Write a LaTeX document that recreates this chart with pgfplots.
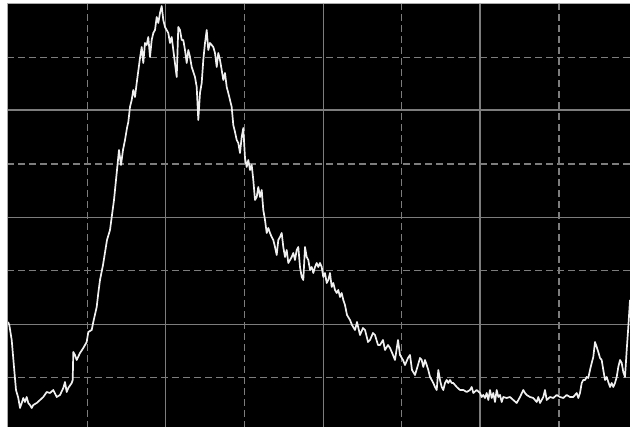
\documentclass[border=0pt]{standalone}
\usepackage{pgfplots}
\pgfplotsset{compat=1.18}
\definecolor{gridc}{RGB}{125,125,125}
\definecolor{framec}{RGB}{170,170,170}
\definecolor{curvec}{RGB}{240,240,240}
\begin{document}
\begin{tikzpicture}[x=1pt,y=1pt]
\useasboundingbox (0,0) rectangle (630,427);
\fill[white] (0,0) rectangle (630,427);
\begin{axis}[
  at={(7pt,0pt)}, anchor=south west,
  scale only axis, width=623pt, height=424pt,
  xmin=7, xmax=630, ymin=3, ymax=427, y dir=reverse,
  axis background/.style={fill=black},
  axis line style={draw=none},
  major tick length=0pt, minor tick length=0pt,
  xticklabels={}, yticklabels={},
  xtick={165.7,323.3,480}, minor xtick={87.3,244.3,401.7,559},
  ytick={110,217.3,324.3}, minor ytick={57.3,164,270.5,377.3},
  grid=both,
  major grid style={solid, gridc, line width=1.5pt},
  minor grid style={gridc, line width=1.5pt, dash pattern=on 7pt off 4pt},
  clip=true,
]
\addplot[curvec, line width=1.7pt, line join=round] coordinates {
(8,322)(9.3,325)(11.7,340)(14,367)(16,390)(18.3,398)(20,408)(21.7,403)(23.3,398)(25,402)
(26.7,397)(28.3,403)(30,405)(31.7,408)(33.3,405)(36.7,403)(40,400)(43.3,397)(46.7,392)
(50,393)(53.3,390)(56.7,397)(60,395)(63.3,388)(65,382)(66.7,392)(68.3,388)(71.7,383)
(72.7,380)(73.3,352)(75,355)(76.7,360)(80,353)(83.3,348)(86.7,342)(88.3,332)(91.7,330)
(93.3,322)(96.7,307)(98.3,293)(100,280)(103,265)(107,240)(110,230)(114,200)(117,170)
(119,150)(121,165)(123,150)(125,140)(127,128)(128.3,122)(130,107)(131.7,100)(133.3,90)
(135,97)(136.7,83)(140,58)(141.7,47)(143.3,63)(145,43)(146.7,45)(148.3,37)(150,57)
(151.7,40)(153.3,33)(155,30)(156.7,17)(158.3,23)(160,13)(161.7,6)(163.3,20)(165,27)
(168.3,33)(170,43)(171.7,37)(173.3,50)(176.7,77)(178.3,27)(180,30)(181.7,40)(183.3,40)
(185,50)(186.7,63)(188.3,50)(190,57)(191.7,67)(195,77)(196.7,87)(198.3,120)(200,93)
(201.7,83)(203.3,60)(205,43)(206.7,30)(208.3,50)(210,43)(213.3,47)(215,53)(216.7,67)
(218.3,53)(220,60)(221.7,70)(223.3,80)(225,73)(226.7,87)(228.3,93)(230,100)(231.7,107)
(233.3,125)(235,132)(236.7,140)(238.3,143)(240,153)(241.7,137)(243.3,128)(245,158)
(246.7,167)(248.3,160)(250,170)(251.7,165)(253.3,180)(255,200)(256.7,197)(258.3,187)
(260,197)(261.7,190)(263.3,210)(265,220)(266.7,233)(268.3,228)(270,233)(271.7,237)
(273.3,240)(275,247)(276.7,255)(278.3,240)(280,237)(281.7,233)(283.3,247)(285,257)
(286.7,250)(288.3,263)(290,260)(291.7,257)(293.3,253)(295,260)(296.7,250)(298.3,247)
(300,267)(301.7,277)(303.3,280)(305,247)(306.7,257)(308.3,260)(310,270)(311.7,267)
(313.3,273)(315,267)(316.7,263)(318.3,267)(320,263)(321.7,267)(323.3,277)(325,273)
(326.7,283)(328.3,280)(330,273)(331.7,287)(333.3,283)(335,290)(336.7,293)(338.3,290)
(340,297)(341.7,293)(343.3,300)(345,305)(347,315)(350,320)(352,325)(355,330)(357,322)
(360,335)(363,328)(365,330)(368,342)(370,340)(373,333)(375,335)(378,345)(380,345)
(383,340)(385,350)(388,345)(390,348)(393,355)(395,360)(398,340)(400,355)(403,360)
(405,365)(408,358)(410,355)(412,370)(415,375)(418,365)(420,358)(421.7,360)(423.3,367)
(425,360)(426.7,365)(428.3,370)(430,377)(431.7,380)(433.3,383)(435,387)(436.7,390)
(438.3,370)(440,380)(441.7,387)(443.3,390)(445,383)(446.7,380)(448.3,383)(450,380)
(451.7,383)(453.3,383)(456.7,387)(460,390)(463.3,390)(466.7,392)(470,390)(471.7,387)
(473.3,393)(476.7,390)(480,393)(481.7,397)(483.3,395)(485,398)(486.7,393)(488.3,400)
(490,390)(491.7,398)(493.3,393)(495,402)(496.7,390)(498.3,397)(500,395)(501.7,402)
(503.3,397)(506.7,398)(510,397)(513.3,400)(516.7,403)(520,397)(523.3,390)(525,393)
(526.7,395)(530,397)(533.3,398)(536.7,402)(538.3,397)(540,403)(543.3,397)(545,390)
(546.7,400)(550,397)(553.3,398)(556.7,395)(560,397)(563.3,398)(566.7,395)(570,397)
(573.3,397)(576.7,393)(578.3,398)(580,393)(581.7,383)(583.3,380)(585,380)(586.7,377)
(588.3,378)(590,370)(591.7,363)(593.3,357)(595,342)(596.7,347)(598.3,352)(600,358)
(601.7,360)(603.3,370)(605,380)(606.7,377)(608.3,382)(610,387)(611.7,383)(613.3,387)
(615,383)(616.7,377)(618.3,367)(620,360)(621.7,363)(623.3,372)(625,377)(626.7,350)
(628.3,327)(630,300)
};
\end{axis}
\draw[framec, line width=1pt] (7.5,0) -- (7.5,423.5) -- (630,423.5);
\end{tikzpicture}
\end{document}
